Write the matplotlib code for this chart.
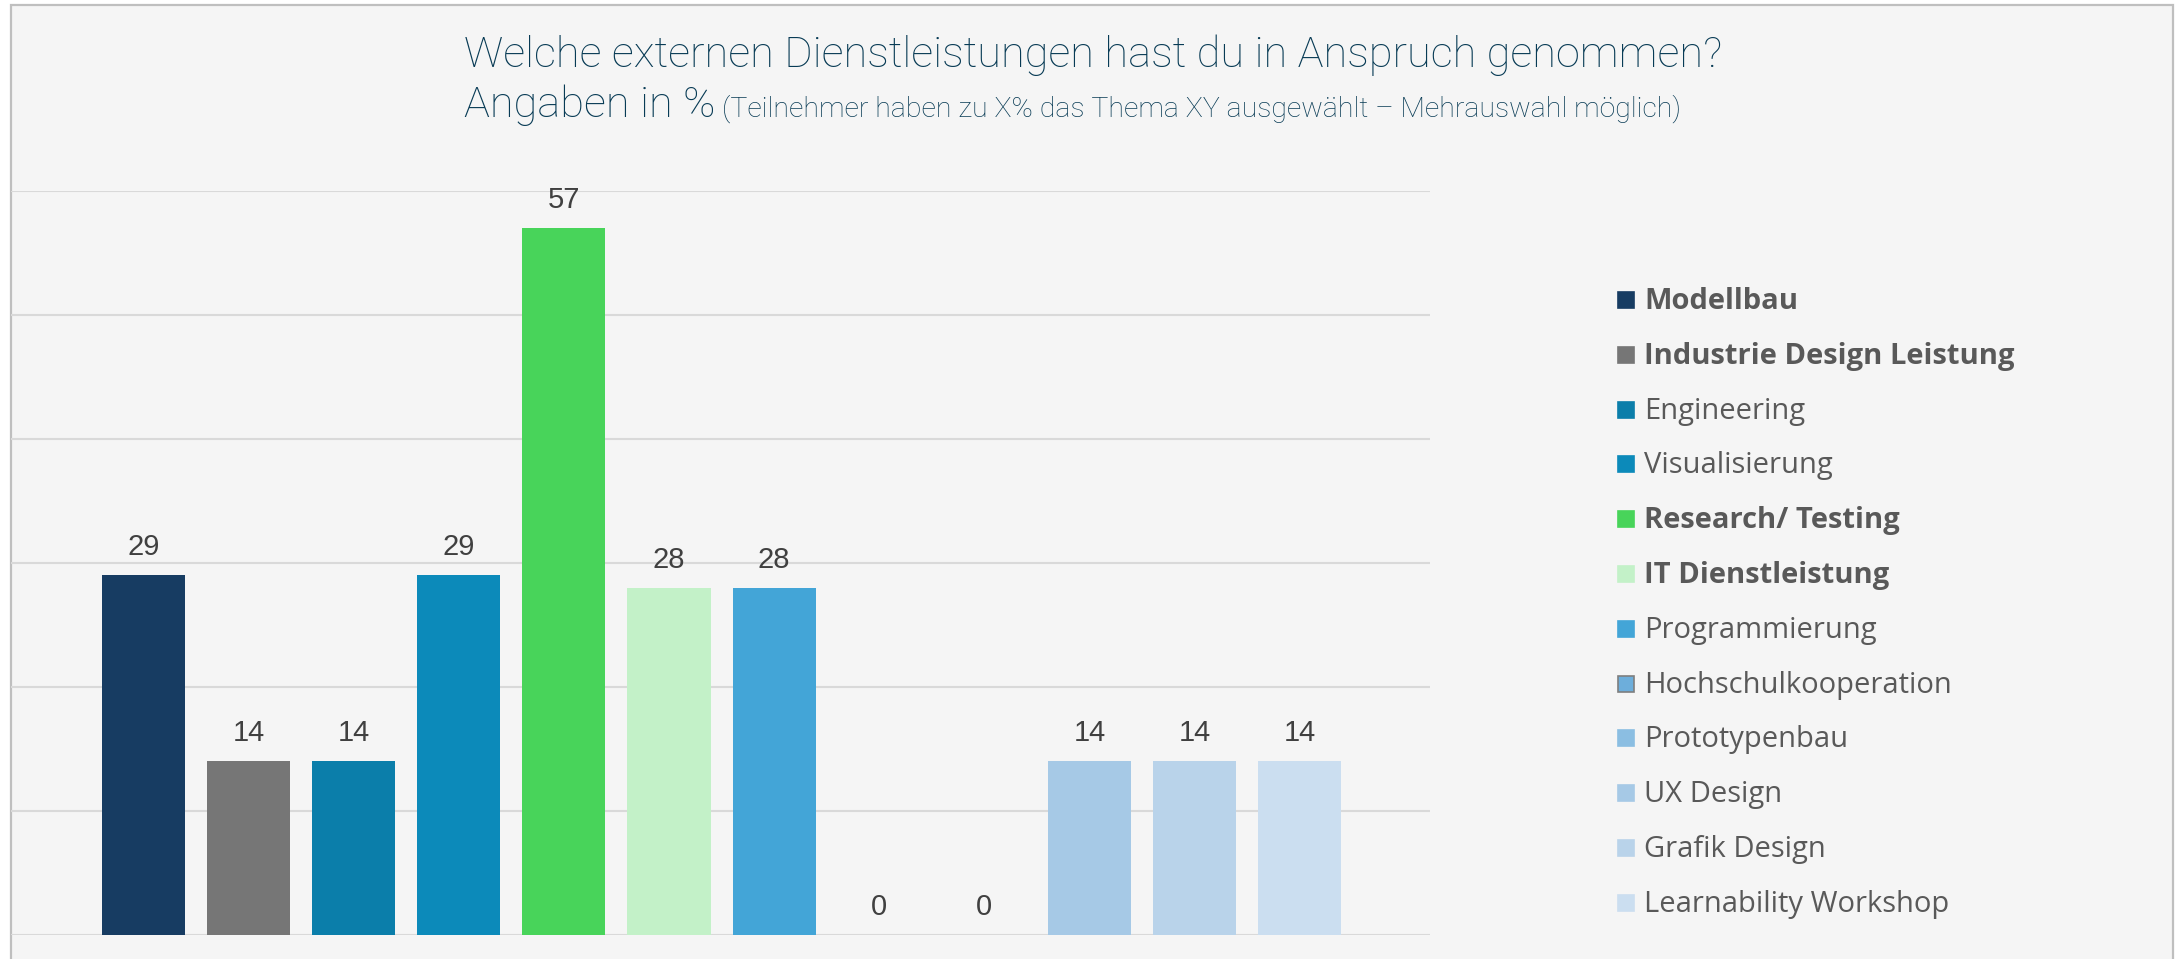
import matplotlib
matplotlib.use("Agg")
import matplotlib.pyplot as plt
from matplotlib.patches import Rectangle

# ---- data ----
categories = ["Modellbau", "Industrie Design Leistung", "Engineering", "Visualisierung",
              "Research/ Testing", "IT Dienstleistung", "Programmierung",
              "Hochschulkooperation", "Prototypenbau", "UX Design", "Grafik Design",
              "Learnability Workshop"]
values = [29, 14, 14, 29, 57, 28, 28, 0, 0, 14, 14, 14]
colors = ["#173C62", "#767676", "#0B7EAA", "#0C8ABA", "#48D45A", "#C3F1C8",
          "#43A5D7", "#6DAEDB", "#8BBEE2", "#A6C9E6", "#B9D3EA", "#CBDEF0"]
bold_legend = [True, True, False, False, True, True, False, False, False, False, False, False]
yticks = [0, 10, 20, 30, 40, 50, 60]
title_line1 = "Welche externen Dienstleistungen hast du in Anspruch genommen?"
title_line2a = "Angaben in % "
title_line2b = "(Teilnehmer haben zu X% das Thema XY ausgewählt – Mehrauswahl möglich)"

W, H = 2184, 959
fig = plt.figure(figsize=(W / 100, H / 100), dpi=100, facecolor="white")

# chart area background with border
fig.patches.append(Rectangle((11 / W, -0.05), (2173 - 11) / W, 1.05 - 5 / H,
                             transform=fig.transFigure, facecolor="#F5F5F5",
                             edgecolor="#BFBFBF", linewidth=1.6, zorder=-5))

ax = fig.add_axes([11 / W, 24 / H, (1430 - 11) / W, (935 - 191) / H], zorder=1)
ax.set_facecolor("none")
x = list(range(len(values)))
bars = ax.bar(x, values, width=0.79, color=colors, zorder=3)
ax.set_xlim(-1.26, 12.24)
ax.set_ylim(0, 60)
ax.set_yticks(yticks)
ax.yaxis.grid(True, color="#D9D9D9", linewidth=1.5, zorder=0)
ax.set_axisbelow(True)
ax.tick_params(left=False, bottom=False, labelleft=False, labelbottom=False)
for s in ax.spines.values():
    s.set_visible(False)

for xi, v in zip(x, values):
    ax.annotate(str(v), (xi, v), xytext=(0, 14.4), textcoords="offset points",
                ha="center", va="baseline", fontsize=21, color="#404040",
                family="Liberation Sans")

# titles
title_color = "#083B55"
fig.text(464 / W, 1 - 67 / H, title_line1, fontsize=31.2, color=title_color,
         family="Roboto", fontweight="light", va="baseline", ha="left")
t2 = fig.text(464 / W, 1 - 117 / H, title_line2a, fontsize=31.2, color=title_color,
              family="Roboto", fontweight="light", va="baseline", ha="left")
fig.canvas.draw()
bb = t2.get_window_extent(renderer=fig.canvas.get_renderer())
fig.text((bb.x1 - 4) / W, 1 - 117 / H, title_line2b, fontsize=20.5, color=title_color,
         family="Roboto", fontweight="light", va="baseline", ha="left")

# legend (manual)
y0 = 300
step = 54.8
for i, (name, c, b) in enumerate(zip(categories, colors, bold_legend)):
    yc = y0 + i * step
    ec = "#7F7F7F" if name == "Hochschulkooperation" else c
    fig.patches.append(Rectangle((1618 / W, 1 - (yc + 8) / H), 16 / W, 16 / H,
                                 transform=fig.transFigure, facecolor=c,
                                 edgecolor=ec, linewidth=1.2, zorder=2))
    fig.text(1644 / W, 1 - (yc + 9) / H, name, fontsize=21, color="#595959",
             family="Open Sans", fontweight="bold" if b else "normal",
             va="baseline", ha="left")

fig.savefig("out.png", dpi=100, facecolor="white")
